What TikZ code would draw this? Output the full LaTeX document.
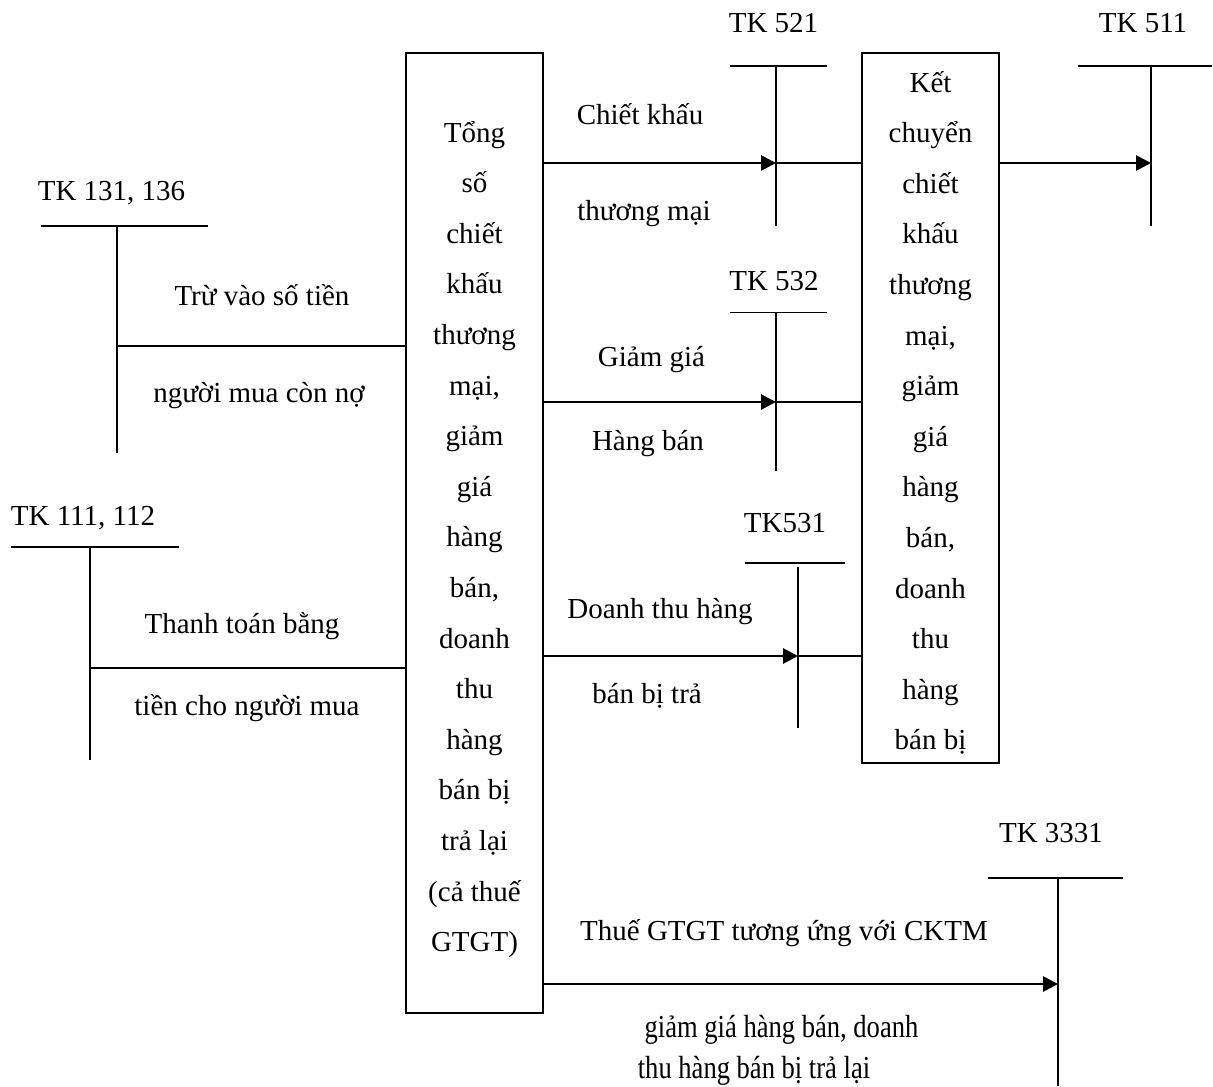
\documentclass[tikz,border=0pt]{standalone}
\usepackage{fontspec}
\setmainfont{Liberation Serif}
\usepackage{graphicx}
\usetikzlibrary{arrows.meta}

\begin{document}
\begin{tikzpicture}[x=0.5pt,y=-0.5pt,
  every node/.style={inner sep=0pt, outer sep=0pt,
    font=\fontsize{14.5pt}{25.3pt}\selectfont},
  box/.style={draw, line width=1pt},
  lbl/.style={anchor=base},
  small/.style={anchor=base, font=\fontsize{16pt}{20pt}\selectfont},
  tline/.style={line width=1pt},
  thinline/.style={line width=0.5pt},
  link/.style={line width=0.8pt},
  flow/.style={line width=1.4pt, -{Triangle[length=7.5pt,width=7.5pt]}},
]
\useasboundingbox (0,0) rectangle (1213,1086);

% ---- the two summary boxes ----
\node[box, minimum width=68.5pt, minimum height=480pt] (tong) at (474.5,533) {};
\node[lbl] (tongtxt) at (474.5,142) {\begin{tabular}[t]{@{}c@{}}
  Tổng\\ số\\ chiết\\ khấu\\ thương\\ mại,\\ giảm\\ giá\\ hàng\\ bán,\\
  doanh\\ thu\\ hàng\\ bán bị\\ trả lại\\ (cả thuế\\ GTGT)\end{tabular}};

\node[box, minimum width=68.5pt, minimum height=355pt] (kc) at (930.5,408) {};
\node[lbl] (kctxt) at (930.5,92) {\begin{tabular}[t]{@{}c@{}}
  Kết\\ chuyển\\ chiết\\ khấu\\ thương\\ mại,\\ giảm\\ giá\\ hàng\\ bán,\\
  doanh\\ thu\\ hàng\\ bán bị\end{tabular}};

% ---- TK 131, 136 ----
\node[lbl] (l131) at (111.5,200) {TK 131, 136};
\coordinate (t131) at (117,226);
\draw[tline] (41,226) -- (208,226);
\draw[tline] (t131) -- (117,453);
\coordinate (j131) at (117,346);
\draw[link] (j131) -- (j131 -| tong.west);
\node[lbl] (d131a) at (262,305) {Trừ vào số tiền};
\node[lbl] (d131b) at (259,402) {người mua còn nợ};

% ---- TK 111, 112 ----
\node[lbl] (l111) at (83,525) {TK 111, 112};
\coordinate (t111) at (90,547);
\draw[tline] (11,547) -- (179,547);
\draw[tline] (t111) -- (90,760);
\coordinate (j111) at (90,668);
\draw[link] (j111) -- (j111 -| tong.west);
\node[lbl] (d111a) at (242,633) {Thanh toán bằng};
\node[lbl] (d111b) at (247,715) {tiền cho người mua};

% ---- TK 521 ----
\node[lbl] (l521) at (773.5,33) {TK 521};
\coordinate (t521) at (776,66);
\draw[tline] (730,66) -- (827,66);
\draw[tline] (t521) -- (776,226);
\coordinate (j521) at (776,163);
\draw[flow] (j521 -| tong.east) -- (j521);
\draw[link] (j521) -- (j521 -| kc.west);
\node[lbl] (d521a) at (640,125) {Chiết khấu};
\node[lbl] (d521b) at (644,220) {thương mại};

% ---- TK 532 ----
\node[lbl] (l532) at (774,290) {TK 532};
\coordinate (t532) at (776,312);
\draw[thinline] (730,312) -- (827,312);
\draw[tline] (t532) -- (776,471);
\coordinate (j532) at (776,402);
\draw[flow] (j532 -| tong.east) -- (j532);
\draw[link] (j532) -- (j532 -| kc.west);
\node[lbl] (d532a) at (651.5,366) {Giảm giá};
\node[lbl] (d532b) at (648,450) {Hàng bán};

% ---- TK 531 ----
\node[lbl] (l531) at (785,532) {TK531};
\coordinate (t531) at (798,567);
\draw[tline] (745,563) -- (845,563);
\draw[tline] (t531) -- (798,728);
\coordinate (j531) at (798,656);
\draw[flow] (j531 -| tong.east) -- (j531);
\draw[link] (j531) -- (j531 -| kc.west);
\node[lbl] (d531a) at (660,618) {Doanh thu hàng};
\node[lbl] (d531b) at (647,703) {bán bị trả};

% ---- TK 511 ----
\node[lbl] (l511) at (1143,33) {TK 511};
\coordinate (t511) at (1151,66);
\draw[tline] (1078,66) -- (1212,66);
\draw[tline] (t511) -- (1151,226);
\coordinate (j511) at (1151,163);
\draw[flow] (j511 -| kc.east) -- (j511);

% ---- TK 3331 ----
\node[lbl] (l3331) at (1051,842) {TK 3331};
\coordinate (t3331) at (1058,878);
\draw[tline] (988,878) -- (1123,878);
\draw[tline] (t3331) -- (1058,1086);
\coordinate (j3331) at (1058,984);
\draw[flow] (j3331 -| tong.east) -- (j3331);
\node[lbl] (d3331a) at (784,940) {Thuế GTGT tương ứng với CKTM};
\node[small] (d3331b) at (781.5,1037) {\scalebox{0.83}[1]{giảm giá hàng bán, doanh}};
\node[small] (d3331c) at (754,1078) {\scalebox{0.83}[1]{thu hàng bán bị trả lại}};
\end{tikzpicture}
\end{document}
